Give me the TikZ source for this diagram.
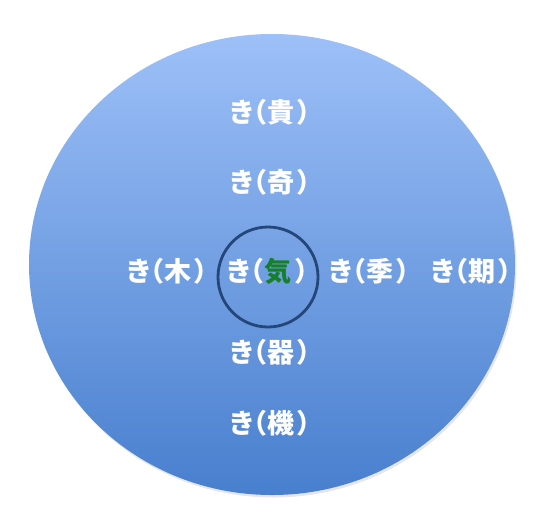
\documentclass[tikz,border=0pt]{standalone}
\usepackage{fontspec}
\newfontfamily\jp{Noto Sans CJK JP}
\usetikzlibrary{shapes.geometric,shadows}
\definecolor{topblue}{RGB}{157,192,248}
\definecolor{botblue}{RGB}{72,127,206}
\definecolor{ringblue}{RGB}{36,70,120}
\definecolor{kigreen}{RGB}{22,128,40}
\newcommand{\kilabel}[1]{き\hspace{-15pt}（#1\hspace{3pt}）\hspace{-14pt}}
\tikzset{
  lbl/.style={font=\jp\bfseries\fontsize{27}{27}\selectfont, text=white, inner sep=0pt, anchor=center},
  bigdisc/.style={ellipse, draw=none, minimum width=486pt, minimum height=461pt, inner sep=0pt,
    top color=topblue, bottom color=botblue,
    drop shadow={opacity=0.2, shadow xshift=1.5pt, shadow yshift=-2.5pt}},
  ring/.style={circle, draw=ringblue, line width=2.8pt, minimum size=100pt, inner sep=0pt}
}
\begin{document}
\begin{tikzpicture}[x=1pt,y=-1pt]
\useasboundingbox (0,0) rectangle (545,513);
\node[bigdisc] (disc) at (272,264.5) {};
\node[ring] (core) at (268,277) {};
\node[lbl] (ki1) at (276,112) {\kilabel{貴}};
\node[lbl] (ki2) at (276,182) {\kilabel{奇}};
\node[lbl] (ki3) at (173,271) {\kilabel{木}};
\node[lbl] (ki4) at (273,271) {\kilabel{\textcolor{kigreen}{気}}};
\node[lbl] (ki5) at (375,271) {\kilabel{季}};
\node[lbl] (ki6) at (477,271) {\kilabel{期}};
\node[lbl] (ki7) at (276,352) {\kilabel{器}};
\node[lbl] (ki8) at (276,423) {\kilabel{機}};
\end{tikzpicture}
\end{document}
